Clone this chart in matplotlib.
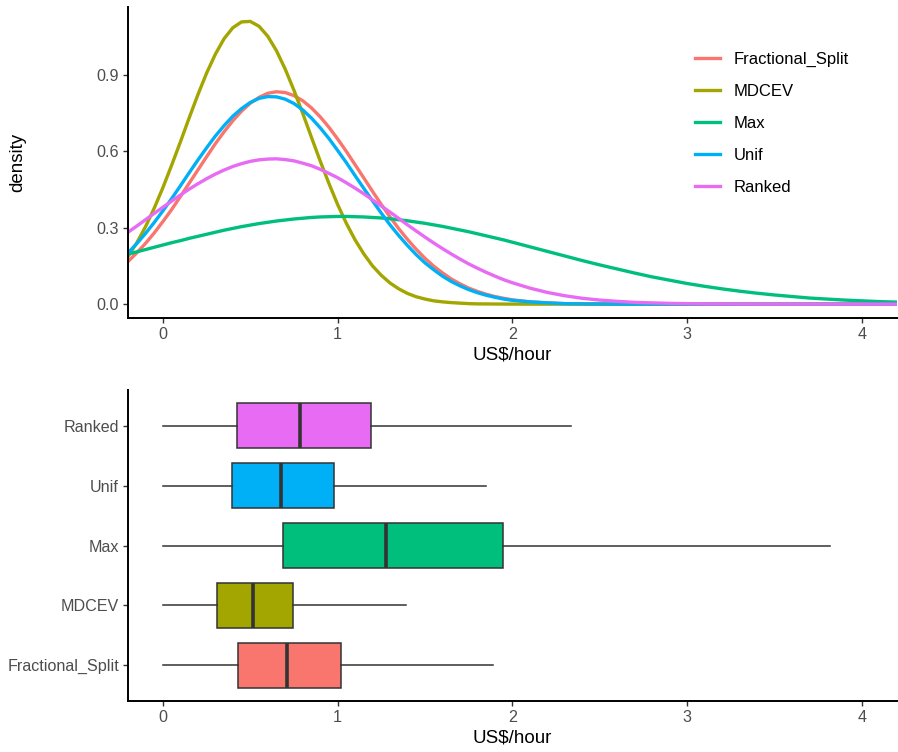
import matplotlib
matplotlib.use('Agg')
import matplotlib.pyplot as plt

plt.rcParams['font.family'] = ['Liberation Sans', 'DejaVu Sans']

# Model names and their ggplot hue colours
models = ['Fractional_Split', 'MDCEV', 'Max', 'Unif', 'Ranked']
colors = ['#F8766D', '#A3A500', '#00BF7D', '#00B0F6', '#E76BF3']

# x grid the density curves were read on (US$/hour): finer where curves bend
x_grid = [-0.2, -0.15, -0.1, -0.05, 0.0, 0.05, 0.1, 0.15, 0.2, 0.25, 0.3, 0.35,
          0.4, 0.45, 0.5, 0.55, 0.6, 0.65, 0.7, 0.75, 0.8, 0.85, 0.9, 0.95,
          1.0, 1.05, 1.1, 1.15, 1.2, 1.25, 1.3, 1.35, 1.4, 1.45, 1.5, 1.55,
          1.6, 1.65, 1.7, 1.75, 1.8, 1.85, 1.9, 1.95, 2.0,
          2.1, 2.2, 2.3, 2.4, 2.5, 2.6, 2.7, 2.8, 2.9, 3.0, 3.1, 3.2,
          3.3, 3.4, 3.5, 3.6, 3.7, 3.8, 3.9, 4.0, 4.1, 4.2]

# Density values
dens_frac = [0.167, 0.201, 0.238, 0.279, 0.324, 0.371, 0.422, 0.474, 0.526, 0.578,
             0.629, 0.676, 0.719, 0.757, 0.788, 0.811, 0.827, 0.833, 0.830, 0.818,
             0.798, 0.770, 0.735, 0.694, 0.648, 0.599, 0.547, 0.495, 0.442, 0.391,
             0.342, 0.296, 0.254, 0.215, 0.180, 0.149, 0.123, 0.099, 0.080, 0.063,
             0.050, 0.039, 0.030, 0.023, 0.017,
             0.009, 0.005, 0.002, 0.001, 0.0005, 0.0002, 0.0001,
             0, 0, 0, 0, 0, 0, 0, 0, 0, 0, 0, 0, 0, 0, 0]
dens_mdcev = [0.187, 0.240, 0.303, 0.376, 0.457, 0.545, 0.636, 0.730, 0.821, 0.906,
              0.980, 1.041, 1.084, 1.107, 1.109, 1.090, 1.051, 0.994, 0.922, 0.839,
              0.749, 0.655, 0.562, 0.474, 0.391, 0.317, 0.252, 0.197, 0.150, 0.113,
              0.083, 0.060, 0.042, 0.029, 0.020, 0.013, 0.009, 0.006, 0.004, 0.002,
              0.001, 0.0008, 0.0005, 0.0003, 0.0002,
              0.0001, 0, 0, 0, 0, 0, 0, 0, 0, 0, 0, 0,
              0, 0, 0, 0, 0, 0, 0, 0, 0, 0]
dens_max = [0.196, 0.205, 0.214, 0.223, 0.232, 0.241, 0.249, 0.258, 0.266, 0.274,
            0.282, 0.290, 0.297, 0.304, 0.310, 0.316, 0.321, 0.326, 0.330, 0.334,
            0.337, 0.340, 0.342, 0.343, 0.344, 0.344, 0.343, 0.342, 0.340, 0.338,
            0.335, 0.331, 0.327, 0.322, 0.317, 0.311, 0.305, 0.298, 0.291, 0.284,
            0.276, 0.268, 0.260, 0.252, 0.243,
            0.225, 0.207, 0.189, 0.171, 0.154, 0.138, 0.122, 0.107, 0.094, 0.081,
            0.070, 0.060, 0.051, 0.043, 0.036, 0.030, 0.024, 0.020, 0.016, 0.013,
            0.010, 0.008]
dens_unif = [0.201, 0.237, 0.277, 0.320, 0.366, 0.414, 0.464, 0.515, 0.565, 0.613,
             0.659, 0.700, 0.737, 0.767, 0.791, 0.807, 0.814, 0.813, 0.804, 0.787,
             0.762, 0.730, 0.692, 0.650, 0.603, 0.555, 0.504, 0.454, 0.405, 0.357,
             0.311, 0.269, 0.230, 0.194, 0.162, 0.135, 0.110, 0.089, 0.072, 0.057,
             0.045, 0.035, 0.027, 0.020, 0.015,
             0.009, 0.005, 0.002, 0.001, 0.0005, 0.0002, 0.0001,
             0, 0, 0, 0, 0, 0, 0, 0, 0, 0, 0, 0, 0, 0, 0]
dens_ranked = [0.282, 0.306, 0.331, 0.356, 0.380, 0.404, 0.428, 0.451, 0.472, 0.492,
               0.510, 0.526, 0.540, 0.551, 0.560, 0.566, 0.569, 0.570, 0.567, 0.562,
               0.553, 0.543, 0.529, 0.513, 0.496, 0.476, 0.455, 0.433, 0.409, 0.385,
               0.361, 0.336, 0.311, 0.287, 0.263, 0.240, 0.218, 0.197, 0.177, 0.158,
               0.141, 0.125, 0.110, 0.096, 0.084,
               0.063, 0.046, 0.033, 0.023, 0.016, 0.011, 0.007, 0.005, 0.003, 0.002,
               0.001, 0.0007, 0.0004, 0.0002, 0.0001, 0, 0, 0, 0, 0, 0, 0]

# Box plot summaries
whisk_lo = [0.0, 0.0, 0.0, 0.0, 0.0]
q1 = [0.429, 0.311, 0.689, 0.397, 0.423]
med = [0.712, 0.517, 1.276, 0.677, 0.784]
q3 = [1.017, 0.746, 1.947, 0.978, 1.192]
whisk_hi = [1.888, 1.392, 3.820, 1.850, 2.338]

x_ticks = [0, 1, 2, 3, 4]
y_ticks = [0.0, 0.3, 0.6, 0.9]


def style_axes(ax):
    # classic theme: only left and bottom axis lines
    for side in ['top', 'right']:
        ax.spines[side].set_visible(False)
    for side in ['left', 'bottom']:
        ax.spines[side].set_linewidth(1.4)
        ax.spines[side].set_color('black')
    ax.tick_params(length=3.4, width=1.0, color='#333333',
                   labelsize=11.6, labelcolor='#4D4D4D', pad=3)


fig = plt.figure(figsize=(8.98, 7.52), dpi=100)
ax1 = fig.add_axes([0.1425, 0.5767, 0.856, 0.4144])
ax2 = fig.add_axes([0.1425, 0.0678, 0.856, 0.4136])

# Top: density curves
all_dens = [dens_frac, dens_mdcev, dens_max, dens_unif, dens_ranked]
for name, ys, c in zip(models, all_dens, colors):
    ax1.plot(x_grid, ys, color=c, lw=2.4, label=name, solid_joinstyle='round')

ax1.set_xlim(-0.2, 4.2)
ax1.set_ylim(-0.0556, 1.1667)
ax1.set_xticks(x_ticks)
ax1.set_yticks(y_ticks)
ax1.set_yticklabels(['%.1f' % v for v in y_ticks])
style_axes(ax1)
ax1.set_xlabel('US\\$/hour', fontsize=13.5)
ax1.xaxis.set_label_coords(0.5, -0.092)
ax1.set_ylabel('density', fontsize=13.5)
ax1.yaxis.set_label_coords(-0.132, 0.5)

ax1.legend(loc='upper left', bbox_to_anchor=(0.7376, 0.8547), frameon=False,
           fontsize=12, handlelength=1.5, handletextpad=0.8, labelspacing=1.02,
           borderpad=0, borderaxespad=0)

# Bottom: horizontal box plots
stats = []
for i in range(len(models)):
    stats.append({'whislo': whisk_lo[i], 'q1': q1[i], 'med': med[i],
                  'q3': q3[i], 'whishi': whisk_hi[i], 'fliers': []})

bp = ax2.bxp(stats, positions=[1, 2, 3, 4, 5], widths=0.75, orientation='horizontal',
             patch_artist=True, showcaps=False, showfliers=False,
             boxprops=dict(edgecolor='#333333', linewidth=1.1),
             whiskerprops=dict(color='#333333', linewidth=1.1),
             medianprops=dict(color='#333333', linewidth=2.6))
for patch, c in zip(bp['boxes'], colors):
    patch.set_facecolor(c)

ax2.set_xlim(-0.2, 4.2)
ax2.set_ylim(0.4, 5.6)
ax2.set_xticks(x_ticks)
ax2.set_yticks([1, 2, 3, 4, 5])
ax2.set_yticklabels(models)
style_axes(ax2)
ax2.set_xlabel('US\\$/hour', fontsize=13.5)
ax2.xaxis.set_label_coords(0.5, -0.093)

fig.savefig('out.png', dpi=100)
